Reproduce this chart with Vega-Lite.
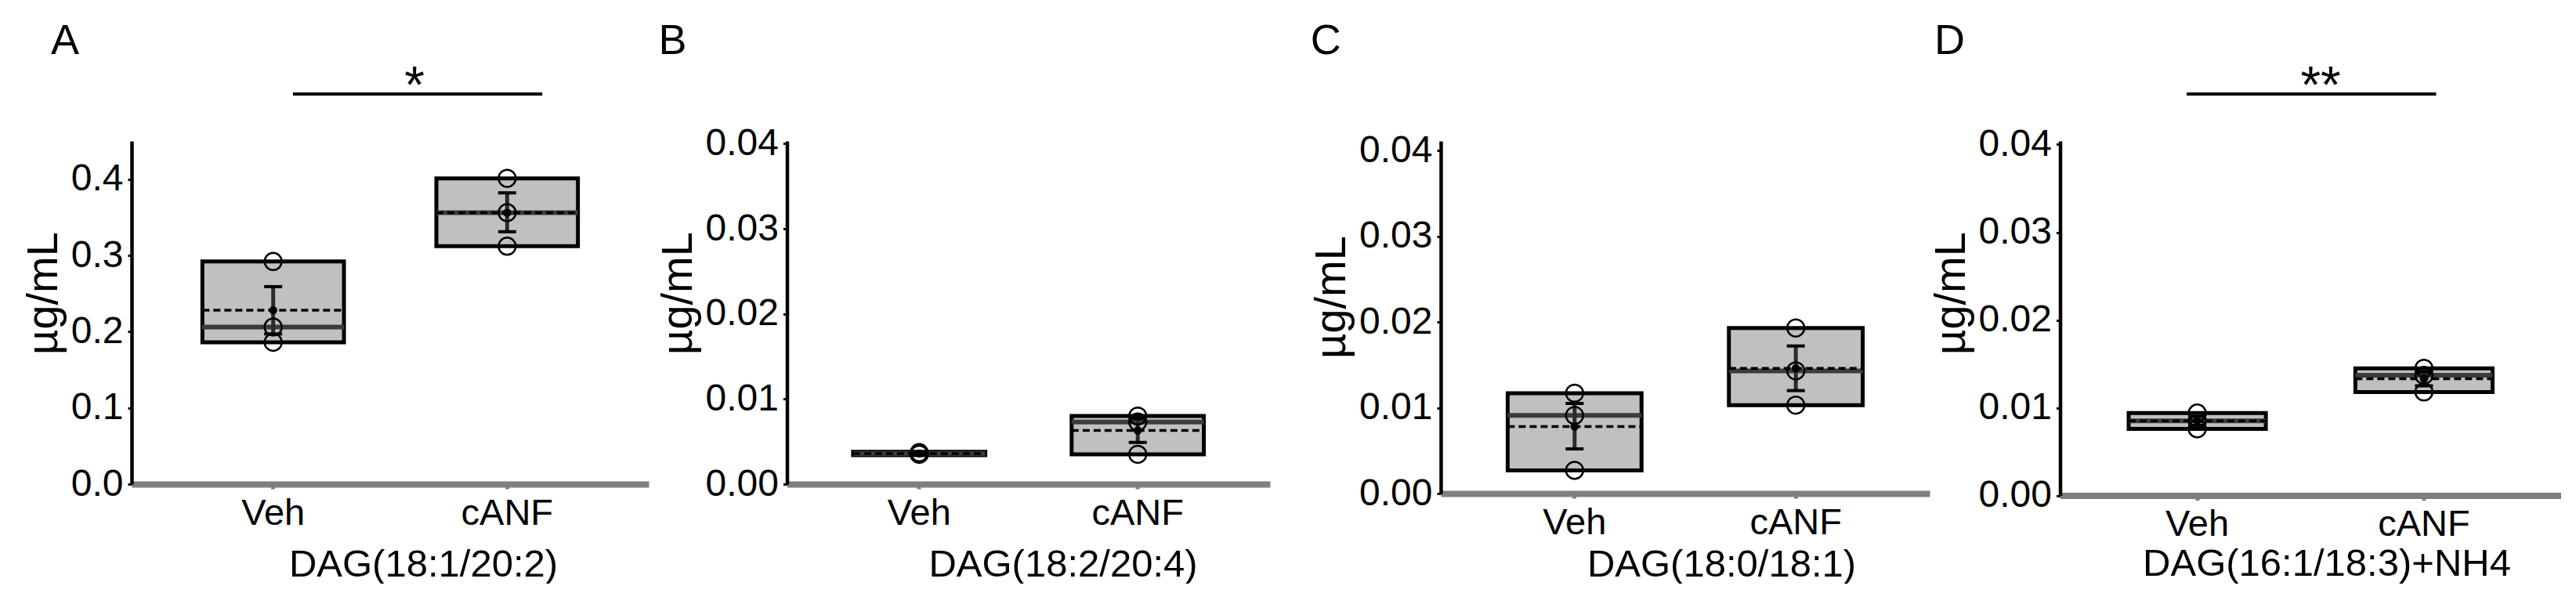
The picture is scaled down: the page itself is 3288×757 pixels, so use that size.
{
  "$schema": "https://vega.github.io/schema/vega-lite/v6.json",
  "background": "white",
  "padding": {"left": 27, "top": 25, "right": 0, "bottom": 0},
  "datasets": {
    "summary": [
      {"panel": "A", "group": "Veh", "min": 0.186, "max": 0.292, "median": 0.206, "mean": 0.228, "lo": 0.197, "hi": 0.259},
      {"panel": "A", "group": "cANF", "min": 0.312, "max": 0.401, "median": 0.356, "mean": 0.356, "lo": 0.331, "hi": 0.382},
      {"panel": "B", "group": "Veh", "min": 0.0034, "max": 0.0038, "median": 0.0036, "mean": 0.0036, "lo": 0.0035, "hi": 0.0037},
      {"panel": "B", "group": "cANF", "min": 0.0035, "max": 0.008, "median": 0.0073, "mean": 0.0063, "lo": 0.0049, "hi": 0.0077},
      {"panel": "C", "group": "Veh", "min": 0.0027, "max": 0.0117, "median": 0.0091, "mean": 0.0078, "lo": 0.0052, "hi": 0.0105},
      {"panel": "C", "group": "cANF", "min": 0.0103, "max": 0.0193, "median": 0.0143, "mean": 0.0146, "lo": 0.012, "hi": 0.0172},
      {"panel": "D", "group": "Veh", "min": 0.0076, "max": 0.0094, "median": 0.0085, "mean": 0.0085, "lo": 0.008, "hi": 0.009},
      {"panel": "D", "group": "cANF", "min": 0.0118, "max": 0.0145, "median": 0.0137, "mean": 0.0133, "lo": 0.0125, "hi": 0.0141}
    ],
    "points": [
      {"panel": "A", "group": "Veh", "value": 0.292},
      {"panel": "A", "group": "Veh", "value": 0.206},
      {"panel": "A", "group": "Veh", "value": 0.186},
      {"panel": "A", "group": "cANF", "value": 0.401},
      {"panel": "A", "group": "cANF", "value": 0.356},
      {"panel": "A", "group": "cANF", "value": 0.312},
      {"panel": "B", "group": "Veh", "value": 0.0035},
      {"panel": "B", "group": "Veh", "value": 0.0036},
      {"panel": "B", "group": "Veh", "value": 0.0037},
      {"panel": "B", "group": "cANF", "value": 0.008},
      {"panel": "B", "group": "cANF", "value": 0.0073},
      {"panel": "B", "group": "cANF", "value": 0.0035},
      {"panel": "C", "group": "Veh", "value": 0.0117},
      {"panel": "C", "group": "Veh", "value": 0.0091},
      {"panel": "C", "group": "Veh", "value": 0.0027},
      {"panel": "C", "group": "cANF", "value": 0.0193},
      {"panel": "C", "group": "cANF", "value": 0.0143},
      {"panel": "C", "group": "cANF", "value": 0.0103},
      {"panel": "D", "group": "Veh", "value": 0.0094},
      {"panel": "D", "group": "Veh", "value": 0.0085},
      {"panel": "D", "group": "Veh", "value": 0.0076},
      {"panel": "D", "group": "cANF", "value": 0.0145},
      {"panel": "D", "group": "cANF", "value": 0.0137},
      {"panel": "D", "group": "cANF", "value": 0.0118}
    ]
  },
  "spacing": 50,
  "hconcat": [
    {
      "bounds": "flush",
      "spacing": 176.5,
      "hconcat": [
        {
          "width": 660, "height": 438,
          "encoding": {
            "x": {"field": "group", "type": "nominal", "sort": ["Veh", "cANF"], "title": "DAG(18:1/20:2)",
              "scale": {"paddingInner": 0.395, "paddingOuter": 0.3025},
              "axis": {"titleX": 372, "titleY": 117}}
          },
          "layer": [
            {"data": {"name": "summary"}, "transform": [{"filter": "datum.panel == 'A'"}],
              "mark": {"type": "bar", "fill": "#c0c0c0", "stroke": "#000", "strokeWidth": 5},
              "encoding": {
                "y": {"field": "min", "type": "quantitative", "title": "µg/mL", "scale": {"domain": [0, 0.45], "nice": false},
                  "axis": {"values": [0, 0.1, 0.2, 0.3, 0.4], "format": ".1f", "titleY": 194}},
                "y2": {"field": "max"}}},
            {"data": {"name": "summary"}, "transform": [{"filter": "datum.panel == 'A'"}],
              "mark": {"type": "tick", "color": "#3c3c3c", "size": 181, "thickness": 6, "opacity": 1},
              "encoding": {"y": {"field": "median", "type": "quantitative", "title": "µg/mL"}}},
            {"data": {"name": "summary"}, "transform": [{"filter": "datum.panel == 'A'"}],
              "mark": {"type": "rule", "color": "#000", "strokeWidth": 3.5, "strokeDash": [9, 5]},
              "encoding": {
                "x": {"field": "group", "type": "nominal", "bandPosition": 0, "title": "DAG(18:1/20:2)"},
                "x2": {"field": "group", "bandPosition": 1},
                "y": {"field": "mean", "type": "quantitative", "title": "µg/mL"}}},
            {"data": {"name": "summary"}, "transform": [{"filter": "datum.panel == 'A'"}],
              "mark": {"type": "rule", "color": "#2a2a2a", "strokeWidth": 5},
              "encoding": {"y": {"field": "lo", "type": "quantitative", "title": "µg/mL"}, "y2": {"field": "hi"}}},
            {"data": {"name": "summary"}, "transform": [{"filter": "datum.panel == 'A'"}],
              "mark": {"type": "tick", "color": "#000", "size": 23, "thickness": 4, "opacity": 1},
              "encoding": {"y": {"field": "lo", "type": "quantitative", "title": "µg/mL"}}},
            {"data": {"name": "summary"}, "transform": [{"filter": "datum.panel == 'A'"}],
              "mark": {"type": "tick", "color": "#000", "size": 23, "thickness": 4, "opacity": 1},
              "encoding": {"y": {"field": "hi", "type": "quantitative", "title": "µg/mL"}}},
            {"data": {"name": "points"}, "transform": [{"filter": "datum.panel == 'A'"}],
              "mark": {"type": "point", "shape": "circle", "filled": false, "stroke": "#000", "strokeWidth": 2.5, "size": 480, "opacity": 1},
              "encoding": {"y": {"field": "value", "type": "quantitative", "title": "µg/mL"}}},
            {"data": {"name": "summary"}, "transform": [{"filter": "datum.panel == 'A'"}],
              "mark": {"type": "point", "shape": "circle", "filled": true, "color": "#000", "size": 110, "opacity": 1},
              "encoding": {"y": {"field": "mean", "type": "quantitative", "title": "µg/mL"}}},
            {"data": {"values": [{}]},
              "mark": {"type": "rule", "color": "#000", "strokeWidth": 4},
              "encoding": {
                "x": {"datum": "Veh", "type": "nominal", "bandPosition": 0.64, "title": "DAG(18:1/20:2)"},
                "x2": {"datum": "cANF", "bandPosition": 0.748},
                "y": {"datum": 0.5117, "type": "quantitative", "title": "µg/mL"}}},
            {"data": {"values": [{}]},
              "mark": {"type": "text", "text": "*", "fontSize": 66, "font": "Liberation Sans", "baseline": "alphabetic", "align": "center", "color": "#000"},
              "encoding": {
                "x": {"datum": "Veh", "type": "nominal", "bandPosition": 1.498, "title": "DAG(18:1/20:2)"},
                "y": {"datum": 0.5004, "type": "quantitative", "title": "µg/mL"}}},
            {"data": {"values": [{}]},
              "mark": {"type": "text", "text": "A", "fontSize": 54, "font": "Liberation Sans", "baseline": "alphabetic", "align": "left", "color": "#000"},
              "encoding": {
                "x": {"datum": "Veh", "type": "nominal", "bandPosition": -1.07, "title": "DAG(18:1/20:2)"},
                "y": {"datum": 0.5641, "type": "quantitative", "title": "µg/mL"}}}
          ]
        },
        {
          "width": 616.5, "height": 438,
          "encoding": {
            "x": {"field": "group", "type": "nominal", "sort": ["Veh", "cANF"], "title": "DAG(18:2/20:4)",
              "scale": {"paddingInner": 0.395, "paddingOuter": 0.3025},
              "axis": {"titleX": 352, "titleY": 117}}
          },
          "layer": [
            {"data": {"name": "summary"}, "transform": [{"filter": "datum.panel == 'B'"}],
              "mark": {"type": "bar", "fill": "#c0c0c0", "stroke": "#000", "strokeWidth": 5},
              "encoding": {
                "y": {"field": "min", "type": "quantitative", "title": "µg/mL", "scale": {"domain": [0, 0.04032], "nice": false},
                  "axis": {"values": [0, 0.01, 0.02, 0.03, 0.04], "format": ".2f", "titleY": 194}},
                "y2": {"field": "max"}}},
            {"data": {"name": "summary"}, "transform": [{"filter": "datum.panel == 'B'"}],
              "mark": {"type": "tick", "color": "#3c3c3c", "size": 169, "thickness": 6, "opacity": 1},
              "encoding": {"y": {"field": "median", "type": "quantitative", "title": "µg/mL"}}},
            {"data": {"name": "summary"}, "transform": [{"filter": "datum.panel == 'B'"}],
              "mark": {"type": "rule", "color": "#000", "strokeWidth": 3.5, "strokeDash": [9, 5]},
              "encoding": {
                "x": {"field": "group", "type": "nominal", "bandPosition": 0, "title": "DAG(18:2/20:4)"},
                "x2": {"field": "group", "bandPosition": 1},
                "y": {"field": "mean", "type": "quantitative", "title": "µg/mL"}}},
            {"data": {"name": "summary"}, "transform": [{"filter": "datum.panel == 'B'"}],
              "mark": {"type": "rule", "color": "#2a2a2a", "strokeWidth": 5},
              "encoding": {"y": {"field": "lo", "type": "quantitative", "title": "µg/mL"}, "y2": {"field": "hi"}}},
            {"data": {"name": "summary"}, "transform": [{"filter": "datum.panel == 'B'"}],
              "mark": {"type": "tick", "color": "#000", "size": 23, "thickness": 4, "opacity": 1},
              "encoding": {"y": {"field": "lo", "type": "quantitative", "title": "µg/mL"}}},
            {"data": {"name": "summary"}, "transform": [{"filter": "datum.panel == 'B'"}],
              "mark": {"type": "tick", "color": "#000", "size": 23, "thickness": 4, "opacity": 1},
              "encoding": {"y": {"field": "hi", "type": "quantitative", "title": "µg/mL"}}},
            {"data": {"name": "points"}, "transform": [{"filter": "datum.panel == 'B'"}],
              "mark": {"type": "point", "shape": "circle", "filled": false, "stroke": "#000", "strokeWidth": 2.5, "size": 480, "opacity": 1},
              "encoding": {"y": {"field": "value", "type": "quantitative", "title": "µg/mL"}}},
            {"data": {"name": "summary"}, "transform": [{"filter": "datum.panel == 'B'"}],
              "mark": {"type": "point", "shape": "circle", "filled": true, "color": "#000", "size": 110, "opacity": 1},
              "encoding": {"y": {"field": "mean", "type": "quantitative", "title": "µg/mL"}}},
            {"data": {"values": [{}]},
              "mark": {"type": "text", "text": "B", "fontSize": 54, "font": "Liberation Sans", "baseline": "alphabetic", "align": "left", "color": "#000"},
              "encoding": {
                "x": {"datum": "Veh", "type": "nominal", "bandPosition": -1.471, "title": "DAG(18:2/20:4)"},
                "y": {"datum": 0.05054, "type": "quantitative", "title": "µg/mL"}}}
          ]
        }
      ]
    },
    {
      "bounds": "flush",
      "spacing": 166.5,
      "hconcat": [
        {
          "width": 624, "height": 450,
          "encoding": {
            "x": {"field": "group", "type": "nominal", "sort": ["Veh", "cANF"], "title": "DAG(18:0/18:1)",
              "scale": {"paddingInner": 0.395, "paddingOuter": 0.3025},
              "axis": {"titleX": 358, "titleY": 105}}
          },
          "layer": [
            {"data": {"name": "summary"}, "transform": [{"filter": "datum.panel == 'C'"}],
              "mark": {"type": "bar", "fill": "#c0c0c0", "stroke": "#000", "strokeWidth": 5},
              "encoding": {
                "y": {"field": "min", "type": "quantitative", "title": "µg/mL", "scale": {"domain": [0, 0.0411], "nice": false},
                  "axis": {"values": [0, 0.01, 0.02, 0.03, 0.04], "format": ".2f", "titleY": 199}},
                "y2": {"field": "max"}}},
            {"data": {"name": "summary"}, "transform": [{"filter": "datum.panel == 'C'"}],
              "mark": {"type": "tick", "color": "#3c3c3c", "size": 171, "thickness": 6, "opacity": 1},
              "encoding": {"y": {"field": "median", "type": "quantitative", "title": "µg/mL"}}},
            {"data": {"name": "summary"}, "transform": [{"filter": "datum.panel == 'C'"}],
              "mark": {"type": "rule", "color": "#000", "strokeWidth": 3.5, "strokeDash": [9, 5]},
              "encoding": {
                "x": {"field": "group", "type": "nominal", "bandPosition": 0, "title": "DAG(18:0/18:1)"},
                "x2": {"field": "group", "bandPosition": 1},
                "y": {"field": "mean", "type": "quantitative", "title": "µg/mL"}}},
            {"data": {"name": "summary"}, "transform": [{"filter": "datum.panel == 'C'"}],
              "mark": {"type": "rule", "color": "#2a2a2a", "strokeWidth": 5},
              "encoding": {"y": {"field": "lo", "type": "quantitative", "title": "µg/mL"}, "y2": {"field": "hi"}}},
            {"data": {"name": "summary"}, "transform": [{"filter": "datum.panel == 'C'"}],
              "mark": {"type": "tick", "color": "#000", "size": 23, "thickness": 4, "opacity": 1},
              "encoding": {"y": {"field": "lo", "type": "quantitative", "title": "µg/mL"}}},
            {"data": {"name": "summary"}, "transform": [{"filter": "datum.panel == 'C'"}],
              "mark": {"type": "tick", "color": "#000", "size": 23, "thickness": 4, "opacity": 1},
              "encoding": {"y": {"field": "hi", "type": "quantitative", "title": "µg/mL"}}},
            {"data": {"name": "points"}, "transform": [{"filter": "datum.panel == 'C'"}],
              "mark": {"type": "point", "shape": "circle", "filled": false, "stroke": "#000", "strokeWidth": 2.5, "size": 480, "opacity": 1},
              "encoding": {"y": {"field": "value", "type": "quantitative", "title": "µg/mL"}}},
            {"data": {"name": "summary"}, "transform": [{"filter": "datum.panel == 'C'"}],
              "mark": {"type": "point", "shape": "circle", "filled": true, "color": "#000", "size": 110, "opacity": 1},
              "encoding": {"y": {"field": "mean", "type": "quantitative", "title": "µg/mL"}}},
            {"data": {"values": [{}]},
              "mark": {"type": "text", "text": "C", "fontSize": 54, "font": "Liberation Sans", "baseline": "alphabetic", "align": "left", "color": "#000"},
              "encoding": {
                "x": {"datum": "Veh", "type": "nominal", "bandPosition": -1.473, "title": "DAG(18:0/18:1)"},
                "y": {"datum": 0.05124, "type": "quantitative", "title": "µg/mL"}}}
          ]
        },
        {
          "width": 639.5, "height": 452.6,
          "encoding": {
            "x": {"field": "group", "type": "nominal", "sort": ["Veh", "cANF"], "title": "DAG(16:1/18:3)+NH4",
              "scale": {"paddingInner": 0.395, "paddingOuter": 0.3025},
              "axis": {"titleX": 340, "titleY": 102}}
          },
          "layer": [
            {"data": {"name": "summary"}, "transform": [{"filter": "datum.panel == 'D'"}],
              "mark": {"type": "bar", "fill": "#c0c0c0", "stroke": "#000", "strokeWidth": 5},
              "encoding": {
                "y": {"field": "min", "type": "quantitative", "title": "µg/mL", "scale": {"domain": [0, 0.0404], "nice": false},
                  "axis": {"values": [0, 0.01, 0.02, 0.03, 0.04], "format": ".2f", "titleY": 194}},
                "y2": {"field": "max"}}},
            {"data": {"name": "summary"}, "transform": [{"filter": "datum.panel == 'D'"}],
              "mark": {"type": "tick", "color": "#3c3c3c", "size": 175, "thickness": 6, "opacity": 1},
              "encoding": {"y": {"field": "median", "type": "quantitative", "title": "µg/mL"}}},
            {"data": {"name": "summary"}, "transform": [{"filter": "datum.panel == 'D'"}],
              "mark": {"type": "rule", "color": "#000", "strokeWidth": 3.5, "strokeDash": [9, 5]},
              "encoding": {
                "x": {"field": "group", "type": "nominal", "bandPosition": 0, "title": "DAG(16:1/18:3)+NH4"},
                "x2": {"field": "group", "bandPosition": 1},
                "y": {"field": "mean", "type": "quantitative", "title": "µg/mL"}}},
            {"data": {"name": "summary"}, "transform": [{"filter": "datum.panel == 'D'"}],
              "mark": {"type": "rule", "color": "#2a2a2a", "strokeWidth": 5},
              "encoding": {"y": {"field": "lo", "type": "quantitative", "title": "µg/mL"}, "y2": {"field": "hi"}}},
            {"data": {"name": "summary"}, "transform": [{"filter": "datum.panel == 'D'"}],
              "mark": {"type": "tick", "color": "#000", "size": 23, "thickness": 4, "opacity": 1},
              "encoding": {"y": {"field": "lo", "type": "quantitative", "title": "µg/mL"}}},
            {"data": {"name": "summary"}, "transform": [{"filter": "datum.panel == 'D'"}],
              "mark": {"type": "tick", "color": "#000", "size": 23, "thickness": 4, "opacity": 1},
              "encoding": {"y": {"field": "hi", "type": "quantitative", "title": "µg/mL"}}},
            {"data": {"name": "points"}, "transform": [{"filter": "datum.panel == 'D'"}],
              "mark": {"type": "point", "shape": "circle", "filled": false, "stroke": "#000", "strokeWidth": 2.5, "size": 480, "opacity": 1},
              "encoding": {"y": {"field": "value", "type": "quantitative", "title": "µg/mL"}}},
            {"data": {"name": "summary"}, "transform": [{"filter": "datum.panel == 'D'"}],
              "mark": {"type": "point", "shape": "circle", "filled": true, "color": "#000", "size": 110, "opacity": 1},
              "encoding": {"y": {"field": "mean", "type": "quantitative", "title": "µg/mL"}}},
            {"data": {"values": [{}]},
              "mark": {"type": "rule", "color": "#000", "strokeWidth": 4},
              "encoding": {
                "x": {"datum": "Veh", "type": "nominal", "bandPosition": 0.423, "title": "DAG(16:1/18:3)+NH4"},
                "x2": {"datum": "cANF", "bandPosition": 0.589},
                "y": {"datum": 0.04576, "type": "quantitative", "title": "µg/mL"}}},
            {"data": {"values": [{}]},
              "mark": {"type": "text", "text": "**", "fontSize": 66, "font": "Liberation Sans", "baseline": "alphabetic", "align": "center", "color": "#000"},
              "encoding": {
                "x": {"datum": "Veh", "type": "nominal", "bandPosition": 1.4, "title": "DAG(16:1/18:3)+NH4"},
                "y": {"datum": 0.04478, "type": "quantitative", "title": "µg/mL"}}},
            {"data": {"values": [{}]},
              "mark": {"type": "text", "text": "D", "fontSize": 54, "font": "Liberation Sans", "baseline": "alphabetic", "align": "left", "color": "#000"},
              "encoding": {
                "x": {"datum": "Veh", "type": "nominal", "bandPosition": -1.417, "title": "DAG(16:1/18:3)+NH4"},
                "y": {"datum": 0.05031, "type": "quantitative", "title": "µg/mL"}}}
          ]
        }
      ]
    }
  ],
  "config": {
    "view": {"stroke": null},
    "font": "Liberation Sans",
    "axis": {"grid": false, "labelFont": "Liberation Sans", "titleFont": "Liberation Sans", "labelColor": "#000", "titleColor": "#000", "titleFontWeight": "normal"},
    "axisY": {"domainColor": "#000", "domainWidth": 4.5, "tickColor": "#000", "tickWidth": 3, "tickSize": 5, "labelPadding": 6, "labelFontSize": 48, "titleFontSize": 56, "titlePadding": 6},
    "axisX": {"domainColor": "#7f7f7f", "domainWidth": 8, "tickColor": "#7f7f7f", "tickWidth": 5, "tickSize": 6, "labelPadding": 8, "labelFontSize": 47, "labelAngle": 0, "labelDx": 17, "titleFontSize": 49, "titleBaseline": "alphabetic", "titleAlign": "center", "titleAnchor": "middle"}
  }
}
